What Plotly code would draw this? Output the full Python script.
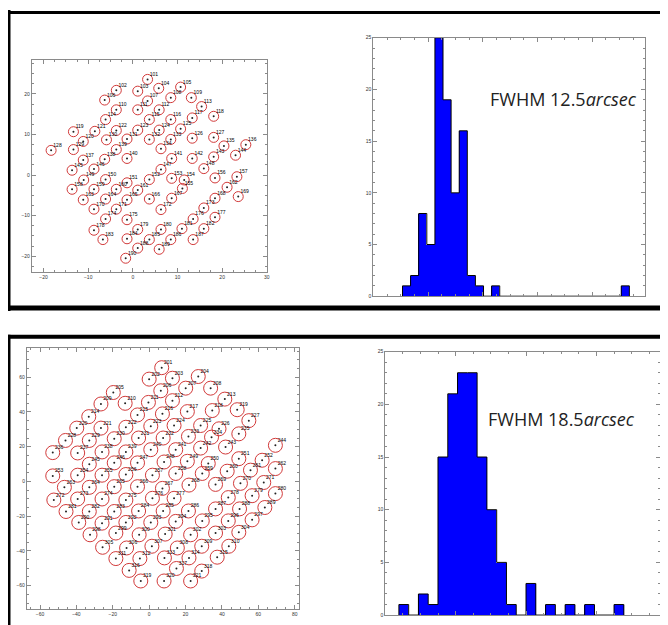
import plotly.graph_objects as go

# page is 668x625; the HTML body adds an 8px margin, so the figure is 660x617
OFF = 8
W, H = 668 - OFF, 625 - OFF

# ---------------- data ----------------
# Top-left: fibre / star positions (arcmin)
top_x = [3.3, -3.7, 1.1, 5.8, 10.7, -6.3, 3.3, 8.5, 13.1, -3.7, 1.1, 5.9, 15.4,
         -6.1, 3.7, 8.5, 13.3, 18.1, -13.3, -11.1, -8.5, -3.7, 1.1, 5.9, 10.7, 13.3,
         18.1, -18.3, -13.3, -5.9, -1.3, 3.7, 8.5, 6.3, 20.4, 25.3, -11.1, -6.3, -3.7,
         -1.3, 8.7, 13.3, 18.1, 23.0, -13.6, -8.7, 6.3, 15.9, -11.0, -6.1, -1.3, 3.7,
         8.7, 11.5, 11.1, 18.4, 23.3, -13.6, -8.7, -3.7, 1.1, 21.1, -11.1, -6.1, -1.3,
         3.7, 8.7, 18.4, 23.6, -8.7, -3.7, 6.3, 15.9, -6.1, -1.3, 13.5, 18.4, -8.7,
         1.1, 6.3, 11.0, 15.9, -6.7, -1.3, 3.7, 8.5, 13.5, 1.1, 5.9, -1.6]
top_y = [23.6, 20.9, 20.7, 21.4, 21.7, 18.5, 18.3, 19.1, 19.1, 16.1, 16.1, 16.1, 16.9,
         13.7, 13.7, 13.7, 14.1, 14.5, 10.7, 8.3, 10.8, 11.0, 11.1, 11.1, 11.4, 9.1,
         9.3, 6.1, 6.3, 8.7, 8.9, 8.8, 8.8, 6.5, 7.2, 7.5, 3.7, 3.9, 6.3,
         4.1, 4.1, 4.1, 4.5, 4.9, 1.2, 1.5, 1.4, 1.6, -1.2, -1.1, -1.9, -1.1,
         -0.8, -1.2, -3.3, -0.7, -0.4, -3.5, -3.5, -3.5, -3.7, -3.0, -6.1, -5.9, -6.1,
         -5.9, -5.7, -5.7, -5.3, -8.4, -8.4, -8.5, -8.1, -10.8, -11.0, -10.8, -10.4, -13.6,
         -13.4, -13.4, -13.2, -13.2, -15.9, -15.7, -15.9, -15.9, -15.9, -18.0, -18.3, -20.5]
top_labels = [str(101 + i) for i in range(len(top_x))]

# Bottom-left: fibre / star positions (arcmin)
bot_x = [6.9, 0.0, 12.8, 27.0, -19.7, 6.4, 20.1, 33.8, -26.5, -13.2, -0.4, 12.8, 41.6,
         -33.2, -6.4, 7.3, 21.0, 34.7, 48.4, -39.8, -26.5, -12.8, 0.9, 13.7, 28.3, 38.4,
         54.8, -46.0, -32.9, -19.2, -5.8, 7.7, 21.6, 34.3, 49.3, -53.0, -39.3, -25.9,
         -12.8, 0.9, 14.6, 28.3, 42.0, 69.4, -32.9, -19.2, -6.4, 8.2, 21.0, 32.5, 49.3,
         62.1, -53.0, -39.3, -25.9, -12.8, 1.8, 14.6, 29.2, 42.9, 55.7, 69.4, -46.6,
         -32.9, -19.2, -6.4, 7.3, 21.9, 36.5, 50.2, 63.0, -52.4, -39.3, -25.9, -12.8,
         1.8, 13.7, 43.5, 56.6, 69.4, -45.7, -32.9, -19.2, -5.8, 7.7, 21.6, 36.5, 49.7,
         63.6, -38.7, -25.9, -12.8, 0.9, 14.6, 29.2, 43.5, 56.6, -32.5, -18.3, -5.5, 8.8,
         22.8, 36.5, 49.3, -25.6, -12.4, 1.5, 15.5, 28.9, 43.8, -18.3, -5.1, 8.4, 21.9,
         37.4, -11.0, 15.0, 28.9, -4.6, 8.2, 22.8]
bot_y = [65.5, 58.9, 59.4, 60.4, 51.2, 52.2, 53.7, 53.7, 44.6, 45.0, 45.5, 46.5, 47.4,
         37.3, 38.3, 38.9, 40.2, 40.8, 41.3, 30.7, 30.7, 31.2, 31.8, 32.2, 32.2, 30.3,
         35.0, 23.6, 23.6, 24.6, 25.0, 25.0, 25.9, 25.5, 27.4, 16.6, 16.4, 17.0,
         17.0, 18.3, 18.3, 19.2, 19.8, 20.8, 9.9, 10.7, 10.7, 11.2, 11.6, 10.3, 13.1,
         12.2, 3.2, 3.6, 3.6, 4.0, 3.6, 4.6, 4.6, 5.9, 6.5, 7.4, -3.4,
         -3.4, -3.0, -3.0, -4.0, -2.1, -1.7, -1.1, -0.6, -10.7, -10.1, -10.1, -10.7,
         -9.7, -9.7, -9.3, -8.2, -7.0, -17.3, -17.3, -17.3, -17.0, -17.0, -17.0, -15.8, -15.8,
         -15.0, -23.6, -24.0, -23.6, -23.6, -23.0, -22.7, -22.7, -22.1, -30.7, -29.7, -30.7, -30.3,
         -30.7, -29.7, -29.3, -37.9, -38.3, -37.3, -38.3, -37.3, -37.3, -44.4, -44.4, -44.0, -44.0,
         -43.6, -51.2, -50.1, -51.6, -57.3, -57.3, -57.3]
bot_labels = [str(201 + i) for i in range(len(bot_x))]

# Histograms (counts per bin)
hist_top_counts = [1, 2, 8, 5, 25, 19, 10, 16, 2, 1, 0, 1, 0, 0, 0, 0, 0, 0, 0, 0,
                   0, 0, 0, 0, 0, 0, 0, 1]
hist_bot_counts = [1, 0, 2, 1, 15, 21, 23, 23, 15, 10, 5, 1, 0, 3, 0, 1, 0, 1, 0, 1,
                   0, 0, 1]

fwhm_top = "FWHM 12.5<i>arcsec</i>"
fwhm_bot = "FWHM 18.5<i>arcsec</i>"

# ---------------- helpers ----------------
def fx(px):
    return (px - OFF) / W

def fy(py):
    return 1 - (py - OFF) / H

def px_dom_x(a, b):
    return [fx(a), fx(b)]

def px_dom_y(top, bottom):
    return [fy(bottom), fy(top)]

AX_COL = "#8a8a8a"
TICK_FONT = dict(size=5, color="#333333", family="Liberation Sans")
LABEL_FONT = dict(size=5, color="black", family="Liberation Sans")

def axis_style(rng, dtick, minor, tick0=None, labels=True):
    d = dict(range=rng, showgrid=False, zeroline=False, showline=True, linecolor=AX_COL,
             linewidth=1, mirror="ticks", ticks="inside", ticklen=4, tickcolor=AX_COL,
             tickwidth=1, dtick=dtick, showticklabels=labels, tickfont=TICK_FONT,
             minor=dict(ticks="inside", ticklen=2, tickcolor=AX_COL, dtick=minor,
                        showgrid=False))
    if tick0 is not None:
        d["tick0"] = tick0
        d["minor"]["tick0"] = tick0
    return d

def step_outline(counts):
    xs, ys = [0], [0]
    for i, c in enumerate(counts):
        xs += [i, i + 1]
        ys += [c, c]
    xs.append(len(counts))
    ys.append(0)
    return xs, ys

fig = go.Figure()

def add_field(xs, ys, labels, size, xa, ya):
    fig.add_trace(go.Scatter(x=xs, y=ys, mode="markers",
                             marker=dict(symbol="circle-open", size=size,
                                         line=dict(color="#d23a3a", width=1),
                                         color="#d23a3a"),
                             xaxis=xa, yaxis=ya, hoverinfo="skip"))
    fig.add_trace(go.Scatter(x=xs, y=ys, mode="markers+text", text=labels,
                             textposition="top right", textfont=LABEL_FONT,
                             marker=dict(size=2, color="#222222"),
                             xaxis=xa, yaxis=ya, hoverinfo="skip"))

add_field(top_x, top_y, top_labels, 10, "x", "y")
add_field(bot_x, bot_y, bot_labels, 14, "x3", "y3")

# ---- histograms ----
for counts, xa, ya in [(hist_top_counts, "x2", "y2"), (hist_bot_counts, "x4", "y4")]:
    centers = [i + 0.5 for i in range(len(counts))]
    fig.add_trace(go.Bar(x=centers, y=counts, width=1.0, marker=dict(color="#0000ff",
                         line=dict(width=0)), xaxis=xa, yaxis=ya, hoverinfo="skip"))
    sx, sy = step_outline(counts)
    fig.add_trace(go.Scatter(x=sx, y=sy, mode="lines", line=dict(color="black", width=1),
                             xaxis=xa, yaxis=ya, hoverinfo="skip"))

layout = dict(
    width=W, height=H, margin=dict(l=0, r=0, t=0, b=0),
    paper_bgcolor="white", plot_bgcolor="white", showlegend=False, bargap=0,
)
xa1 = axis_style([-22.6, 30.0], 10, 2.5)
xa1["domain"] = px_dom_x(32, 268)
xa1["anchor"] = "y"
ya1 = axis_style([-24.0, 28.5], 10, 2.5)
ya1["domain"] = px_dom_y(57, 272)
ya1["anchor"] = "x"

xa3 = axis_style([-67.2, 82.2], 20, 5)
xa3["domain"] = px_dom_x(27, 300)
xa3["anchor"] = "y3"
ya3 = axis_style([-73.5, 77.0], 20, 5)
ya3["domain"] = px_dom_y(348, 612)
ya3["anchor"] = "x3"

xa2 = axis_style([-3.6, 29.94], 6.75, 1.6875, tick0=-3.6, labels=False)
xa2["domain"] = px_dom_x(375, 648)
xa2["anchor"] = "y2"
ya2 = axis_style([0, 25], 5, 1)
ya2["domain"] = px_dom_y(35, 296)
ya2["anchor"] = "x2"

xa4 = axis_style([-1.39, 26.7], 7.2, 1.8, tick0=-1.39, labels=False)
xa4["domain"] = px_dom_x(387, 663)
xa4["anchor"] = "y4"
ya4 = axis_style([0, 25], 5, 1)
ya4["domain"] = px_dom_y(352, 618)
ya4["anchor"] = "x4"

layout.update(xaxis=xa1, yaxis=ya1, xaxis2=xa2, yaxis2=ya2,
              xaxis3=xa3, yaxis3=ya3, xaxis4=xa4, yaxis4=ya4)
fig.update_layout(**layout)

# ---- black frames (page pixel coordinates) ----
def pline(x0, y0, x1, y1, w):
    fig.add_shape(type="line", xref="paper", yref="paper",
                  x0=fx(x0), x1=fx(x1), y0=fy(y0), y1=fy(y1),
                  line=dict(color="black", width=w), layer="above")

pline(9, 7, 9, 311, 3)
pline(6, 9.5, 690, 9.5, 3)
pline(6, 308, 690, 308, 5)
pline(6, 337, 690, 337, 4)
pline(9, 335, 9, 640, 3)

# ---- FWHM labels ----
for txt, px, py in [(fwhm_top, 490, 97), (fwhm_bot, 488, 420)]:
    fig.add_annotation(text=txt, xref="paper", yref="paper", x=fx(px), y=fy(py),
                       xanchor="left", yanchor="middle", showarrow=False,
                       font=dict(family="Open Sans", size=18, color="#222222"))

fig.write_html("out.html")
